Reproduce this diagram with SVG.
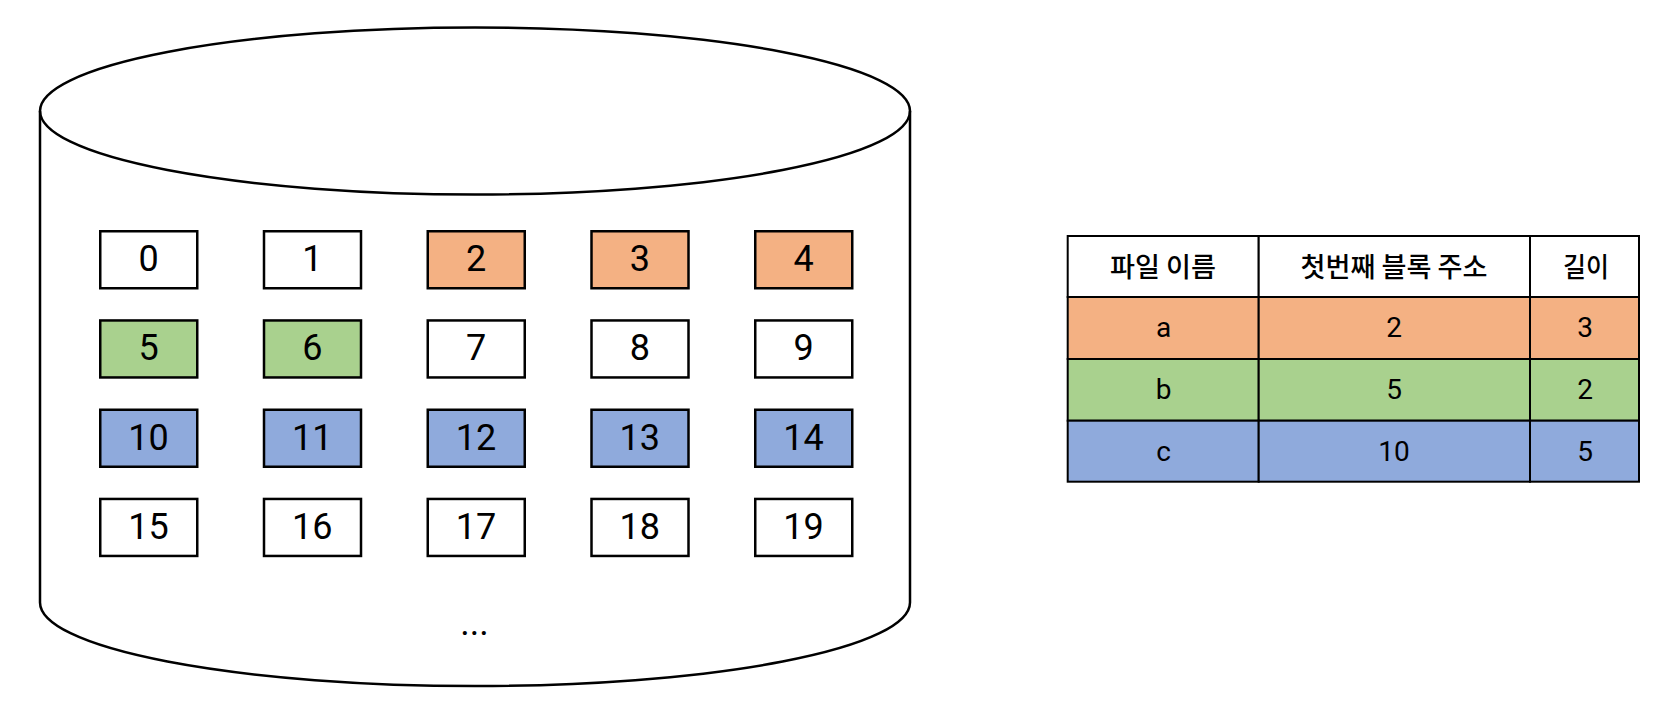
<svg xmlns="http://www.w3.org/2000/svg" width="1666" height="721" viewBox="0 0 1666 721">
  <style>
    .blk { stroke: #000; stroke-width: 2.5; }
    .w { fill: #FFFFFF; }
    .o { fill: #F4B183; }
    .g { fill: #A9D18E; }
    .b { fill: #8FAADC; }
    .num { font-family: Roboto, "Liberation Sans", Arial, sans-serif; font-size: 36px; font-weight: 400; fill: #000; text-anchor: middle; }
    .cell { stroke: #000; stroke-width: 2; }
    .th { font-family: "Noto Sans CJK KR", "Noto Sans", sans-serif; font-size: 27px; font-weight: 500; fill: #000; text-anchor: middle; }
    .td { font-family: Roboto, "Liberation Sans", Arial, sans-serif; font-size: 28px; font-weight: 400; fill: #000; text-anchor: middle; }
  </style>

  <g id="disk">
    <path d="M40,111 A435,83.5 0 0 1 910,111 L910,602.5 A435,83.5 0 0 1 40,602.5 Z" fill="#FFFFFF" stroke="#000" stroke-width="2.5"/>
    <path d="M40,111 A435,83.5 0 0 0 910,111" fill="none" stroke="#000" stroke-width="2.5"/>
    <text class="num" x="474.5" y="635">...</text>
  </g>

  <g id="blocks">
    <g id="block-0"><rect class="blk w" x="100.25" y="231.25" width="97" height="57"/><text class="num" x="148.6" y="271">0</text></g>
    <g id="block-1"><rect class="blk w" x="264" y="231.25" width="97" height="57"/><text class="num" x="312.35" y="271">1</text></g>
    <g id="block-2"><rect class="blk o" x="427.75" y="231.25" width="97" height="57"/><text class="num" x="476.1" y="271">2</text></g>
    <g id="block-3"><rect class="blk o" x="591.5" y="231.25" width="97" height="57"/><text class="num" x="639.85" y="271">3</text></g>
    <g id="block-4"><rect class="blk o" x="755.25" y="231.25" width="97" height="57"/><text class="num" x="803.6" y="271">4</text></g>

    <g id="block-5"><rect class="blk g" x="100.25" y="320.45" width="97" height="57"/><text class="num" x="148.6" y="360.2">5</text></g>
    <g id="block-6"><rect class="blk g" x="264" y="320.45" width="97" height="57"/><text class="num" x="312.35" y="360.2">6</text></g>
    <g id="block-7"><rect class="blk w" x="427.75" y="320.45" width="97" height="57"/><text class="num" x="476.1" y="360.2">7</text></g>
    <g id="block-8"><rect class="blk w" x="591.5" y="320.45" width="97" height="57"/><text class="num" x="639.85" y="360.2">8</text></g>
    <g id="block-9"><rect class="blk w" x="755.25" y="320.45" width="97" height="57"/><text class="num" x="803.6" y="360.2">9</text></g>

    <g id="block-10"><rect class="blk b" x="100.25" y="409.75" width="97" height="57"/><text class="num" x="148.6" y="449.5">10</text></g>
    <g id="block-11"><rect class="blk b" x="264" y="409.75" width="97" height="57"/><text class="num" x="312.35" y="449.5">11</text></g>
    <g id="block-12"><rect class="blk b" x="427.75" y="409.75" width="97" height="57"/><text class="num" x="476.1" y="449.5">12</text></g>
    <g id="block-13"><rect class="blk b" x="591.5" y="409.75" width="97" height="57"/><text class="num" x="639.85" y="449.5">13</text></g>
    <g id="block-14"><rect class="blk b" x="755.25" y="409.75" width="97" height="57"/><text class="num" x="803.6" y="449.5">14</text></g>

    <g id="block-15"><rect class="blk w" x="100.25" y="498.95" width="97" height="57"/><text class="num" x="148.6" y="538.7">15</text></g>
    <g id="block-16"><rect class="blk w" x="264" y="498.95" width="97" height="57"/><text class="num" x="312.35" y="538.7">16</text></g>
    <g id="block-17"><rect class="blk w" x="427.75" y="498.95" width="97" height="57"/><text class="num" x="476.1" y="538.7">17</text></g>
    <g id="block-18"><rect class="blk w" x="591.5" y="498.95" width="97" height="57"/><text class="num" x="639.85" y="538.7">18</text></g>
    <g id="block-19"><rect class="blk w" x="755.25" y="498.95" width="97" height="57"/><text class="num" x="803.6" y="538.7">19</text></g>
  </g>

  <g id="file-table">
    <g id="header-row">
      <rect class="cell w" x="1067.7" y="236" width="191" height="61"/>
      <rect class="cell w" x="1258.7" y="236" width="271.3" height="61"/>
      <rect class="cell w" x="1530" y="236" width="109" height="61"/>
      <text class="th" x="1163" y="277" textLength="106" lengthAdjust="spacingAndGlyphs">파일 이름</text>
      <text class="th" x="1394" y="277" textLength="187" lengthAdjust="spacingAndGlyphs">첫번째 블록 주소</text>
      <text class="th" x="1586" y="277" textLength="46" lengthAdjust="spacingAndGlyphs">길이</text>
    </g>
    <g id="row-a">
      <rect class="cell o" x="1067.7" y="297" width="191" height="62"/>
      <rect class="cell o" x="1258.7" y="297" width="271.3" height="62"/>
      <rect class="cell o" x="1530" y="297" width="109" height="62"/>
      <text class="td" x="1163.5" y="337">a</text>
      <text class="td" x="1394" y="337">2</text>
      <text class="td" x="1585" y="337">3</text>
    </g>
    <g id="row-b">
      <rect class="cell g" x="1067.7" y="359" width="191" height="61.7"/>
      <rect class="cell g" x="1258.7" y="359" width="271.3" height="61.7"/>
      <rect class="cell g" x="1530" y="359" width="109" height="61.7"/>
      <text class="td" x="1163.5" y="398.7">b</text>
      <text class="td" x="1394" y="398.7">5</text>
      <text class="td" x="1585" y="398.7">2</text>
    </g>
    <g id="row-c">
      <rect class="cell b" x="1067.7" y="420.7" width="191" height="61"/>
      <rect class="cell b" x="1258.7" y="420.7" width="271.3" height="61"/>
      <rect class="cell b" x="1530" y="420.7" width="109" height="61"/>
      <text class="td" x="1163.5" y="460.5">c</text>
      <text class="td" x="1394" y="460.5">10</text>
      <text class="td" x="1585" y="460.5">5</text>
    </g>
  </g>

  <g id="connectors"></g>
</svg>
